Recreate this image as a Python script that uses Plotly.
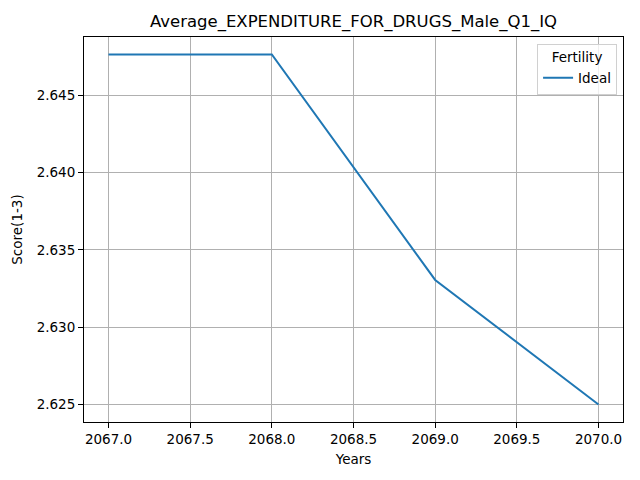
import plotly.graph_objects as go

# ==========================================================================
# Data
# ==========================================================================
years = [2067, 2068, 2069, 2070]
ideal_scores = [2.64765, 2.64765, 2.63306, 2.62500]

series_name = "Ideal"
legend_title = "Fertility"
chart_title = "Average_EXPENDITURE_FOR_DRUGS_Male_Q1_IQ"

# page body adds an 8px offset, so margins are shifted to compensate
OFF = 8

# ==========================================================================
# Figure
# ==========================================================================
fig = go.Figure()
fig.add_trace(go.Scatter(
    x=years,
    y=ideal_scores,
    mode="lines",
    name=series_name,
    line=dict(color="#1f77b4", width=2),
))

axis_common = dict(
    showgrid=True,
    gridcolor="#b0b0b0",
    gridwidth=1,
    zeroline=False,
    showline=True,
    linecolor="black",
    linewidth=1,
    mirror=True,
    ticks="outside",
    ticklen=5,
    tickcolor="black",
    tickfont=dict(size=13.5, color="black"),
    automargin=False,
)

fig.update_layout(
    width=640,
    height=480,
    margin=dict(l=84 - OFF, r=17 + OFF, t=37 - OFF, b=58 + OFF),
    paper_bgcolor="white",
    plot_bgcolor="white",
    font=dict(family="DejaVu Sans", color="black"),
    title=dict(
        text=chart_title,
        x=((84 + 623) / 2 - OFF) / 640,
        xanchor="center",
        y=1 - (21 - OFF) / 480,
        yanchor="middle",
        font=dict(size=16.5),
    ),
    xaxis=dict(
        axis_common,
        range=[2066.85, 2070.15],
        dtick=0.5,
        tickformat=".1f",
        title=dict(text="Years", font=dict(size=13.5), standoff=8),
    ),
    yaxis=dict(
        axis_common,
        range=[2.62387, 2.64878],
        dtick=0.005,
        tickformat=".3f",
        title=dict(text="Score(1-3)", font=dict(size=13.5), standoff=10),
    ),
    legend=dict(
        x=0.989,
        y=0.982,
        xanchor="right",
        yanchor="top",
        bgcolor="rgba(255,255,255,0.8)",
        bordercolor="#d0d0d0",
        borderwidth=1,
        font=dict(size=13.5),
        title=dict(text=legend_title, side="top center", font=dict(size=13.5)),
    ),
    showlegend=True,
)

fig.write_html("out.html")
